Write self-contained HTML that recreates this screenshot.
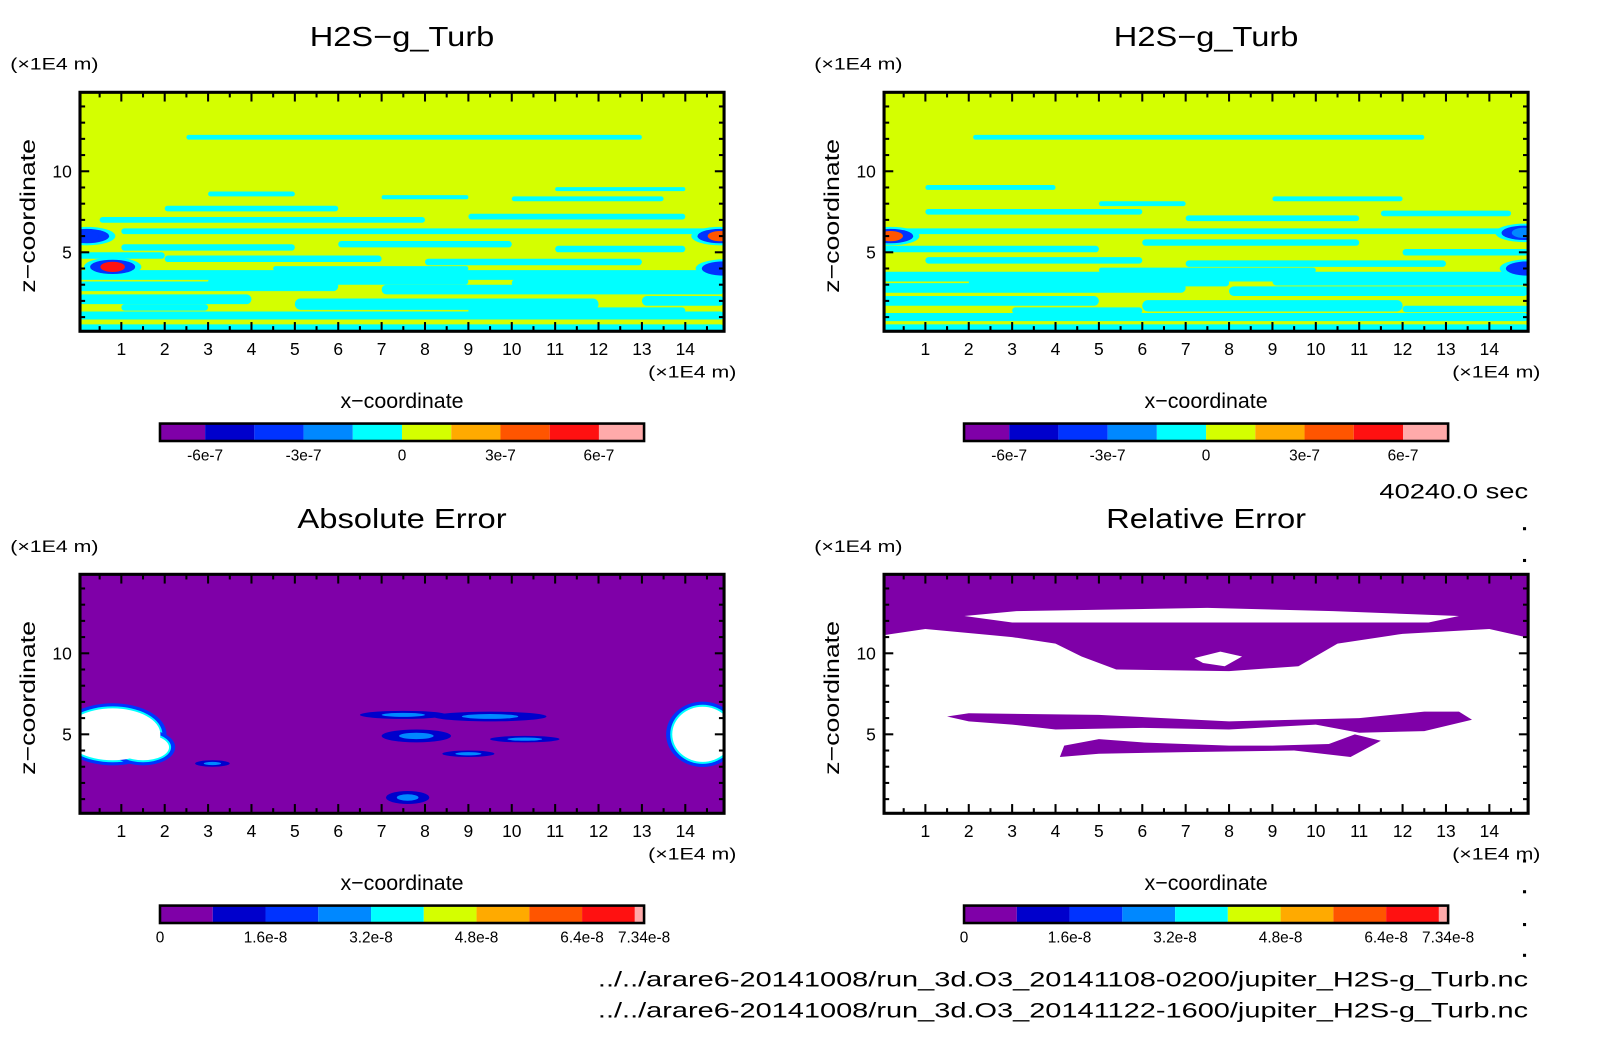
<!DOCTYPE html>
<html><head><meta charset="utf-8"><style>
html,body{margin:0;padding:0;background:#fff;}
svg{display:block;font-family:"Liberation Sans",sans-serif;}
</style></head><body>
<svg id="fig" width="1604" height="1054" viewBox="0 0 1604 1054" xmlns="http://www.w3.org/2000/svg"><g id="root" transform="scale(1.02558)"></g></svg>
<script>
// ---- data ----
const xTicks = [1,2,3,4,5,6,7,8,9,10,11,12,13,14];
const zTicks = [5,10];
const turbLevels = ["#7f00a8","#0000cc","#0033ff","#0088ff","#00ffff","#d4ff00","#ffaa00","#ff5500","#ff1111","#ffaaaa"];
const turbTickLabels = ["-6e-7","-3e-7","0","3e-7","6e-7"];
const turbTickIdx = [1,3,5,7,9];
const errTickLabels = ["0","1.6e-8","3.2e-8","4.8e-8","6.4e-8","7.34e-8"];
const errTickVals = [0,1.6e-8,3.2e-8,4.8e-8,6.4e-8,7.34e-8];
const errMax = 7.34e-8;
// cyan streaks [x0,x1,z,thickness]
const streaksLeft = [[2.5,13,12.1,0.3],[1,14.5,6.3,0.35],[0.5,8,7.0,0.35],[9,14,7.2,0.35],[2,6,7.7,0.35],[10,13.5,8.3,0.3],[11,14,8.9,0.25],[3,5,8.6,0.3],[7,9,8.4,0.25],
 [1,5,5.3,0.4],[6,10,5.5,0.4],[11,14,5.2,0.4],[2,7,4.6,0.4],[8,13,4.4,0.4],[0,14.9,3.6,0.6],[0,6,2.9,0.6],[7,14.9,2.7,0.6],[0,4,2.1,0.6],[5,12,1.8,0.7],[13,14.9,2.0,0.6],[0,14.9,1.1,0.5],[0,14.9,0.3,0.5],
 [3,9,3.2,0.4],[10,14.9,3.1,0.5],[1,3,1.6,0.4],[9,14,1.4,0.4],[0,2,4.8,0.4],[4.5,9,4.0,0.3]];
const streaksRight = [[2.1,12.5,12.1,0.3],[0.5,14.9,6.3,0.35],[1,6,7.5,0.35],[7,11,7.1,0.35],[11.5,14.5,7.4,0.35],[1,4,9.0,0.3],[5,7,8.0,0.3],[9,12,8.3,0.3],
 [0,5,5.2,0.4],[6,11,5.6,0.4],[12,14.9,5.0,0.4],[1,6,4.5,0.4],[7,13,4.3,0.4],[0,14.9,3.5,0.6],[0,7,2.8,0.6],[8,14.9,2.6,0.6],[0,5,2.0,0.6],[6,12,1.7,0.7],[0,14.9,1.0,0.5],[0,14.9,0.3,0.5],
 [2,8,3.1,0.4],[9,14.9,3.2,0.5],[12,14.9,1.5,0.4],[3,6,1.4,0.4],[5,10,3.9,0.3]];
// vortices
const vortLeftX=[0.8,0.2,14.8,14.9], vortLeftZ=[4.1,6.0,6.0,4.0], vortLeftL=[8,2,7,2];
const vortRightX=[0.2,14.9,14.8], vortRightZ=[6.0,4.0,6.2], vortRightL=[7,2,3];
// absolute error blobs (white) [x,z,rx,rz]
const absBlobs=[[0.8,5.0,1.1,1.6],[1.5,4.2,0.6,0.8],[14.4,5.0,0.7,1.7]];
const absSpots=[[7.5,6.2,1.0,0.25],[9.5,6.1,1.3,0.3],[7.8,4.9,0.8,0.4],[3.1,3.2,0.4,0.2],[9,3.8,0.6,0.2],[7.6,1.1,0.5,0.4],[10.3,4.7,0.8,0.2]];
// relative error purple regions
const relTop=[[0,15],[15,15],[15,10.9],[14,11.5],[12,11.2],[10.5,10.6],[9.6,9.2],[8,8.9],[5.4,9.0],[4.6,9.8],[4,10.6],[3,11.0],[1,11.5],[0,11.1]];
const relStripe=[[1.9,12.3],[3.1,12.6],[7.5,12.8],[10.4,12.6],[13.3,12.3],[12.6,11.9],[7,11.9],[3,11.9]];
const relHole=[[7.2,9.7],[7.8,10.1],[8.3,9.8],[7.9,9.2],[7.4,9.4]];
const relBand1=[[1.5,6.1],[2,6.3],[5,6.2],[8,5.8],[11,6.0],[12.5,6.4],[13.3,6.4],[13.6,5.9],[12.5,5.2],[11,5.1],[10,5.6],[8,5.3],[6,5.4],[4,5.3],[3,5.6],[2,5.8]];
const relBand2=[[4.2,4.3],[5,4.7],[6,4.5],[8,4.3],[9,4.3],[10.3,4.4],[10.9,5.0],[11.5,4.6],[10.8,3.6],[9.5,4.0],[7,3.9],[5,3.8],[4.1,3.6]];

const NS="http://www.w3.org/2000/svg";
const svg=document.getElementById('root');
function mk(tag,attrs,parent){const e=document.createElementNS(NS,tag);for(const k in attrs)e.setAttribute(k,attrs[k]);(parent||svg).appendChild(e);return e;}
function txt(s,x,y,size,anchor,parent,name,len){const t=mk('text',{x:x,y:y,'font-size':size,'text-anchor':anchor||'middle',fill:'#000'},parent);t.textContent=s;
if(len){t.setAttribute('textLength',len);t.setAttribute('lengthAdjust','spacingAndGlyphs');}


return t;}

function panel(L,T,title,id,tlen){
  const W=628,H=233,R=L+W,B=T+H;
  const px=x=>L-2+42.3*x, pz=z=>B+2-15.8*z;
  const g=mk('g',{});
  
  
  const cp=mk('clipPath',{id:'c'+id},g); mk('rect',{x:L,y:T,width:W,height:H},cp);
  const f=mk('g',{'clip-path':'url(#c'+id+')'},g);
  
  
  txt(title,(L+R)/2,T-45,27,'middle',g,id+'-title',tlen);
  txt('(×1E4 m)',L-68,T-22,16,'start',g,id+'-y-unit',86);
  txt('(×1E4 m)',R+12,T+278,16,'end',g,id+'-x-unit',86);
  txt('x−coordinate',(L+R)/2,T+308,21,'middle',g,id+'-x-axis-title',120);
  const yl=txt('z−coordinate',L-48,(T+B)/2,21,'middle',g,id+'-y-axis-title',150);
  yl.setAttribute('transform','rotate(-90 '+(L-44)+' '+((T+B)/2)+')');
  xTicks.forEach(v=>{txt(String(v),px(v),B+23,17,'middle',g,id+'-x-tick-label');});
  zTicks.forEach(v=>{txt(String(v),L-8,pz(v)+6,17,'end',g,id+'-y-tick-label');});
  return {g,f,px,pz,L,T,R,B,W,H};
}
function frame(p){
  const g=p.g;
  for(let x=0.5;x<15;x+=0.5){const major=Math.abs(x-Math.round(x))<0.01;const len=major?9:5;
    mk('line',{x1:p.px(x),x2:p.px(x),y1:p.T,y2:p.T+len,stroke:'#000','stroke-width':2},g);
    mk('line',{x1:p.px(x),x2:p.px(x),y1:p.B,y2:p.B-len,stroke:'#000','stroke-width':2},g);}
  for(let z=1;z<15;z++){const major=z%5==0;const len=major?9:5;const y=p.pz(z);if(y<p.T)continue;
    mk('line',{x1:p.L,x2:p.L+len,y1:y,y2:y,stroke:'#000','stroke-width':2},g);
    mk('line',{x1:p.R,x2:p.R-len,y1:y,y2:y,stroke:'#000','stroke-width':2},g);}
  const r=mk('rect',{x:p.L,y:p.T,width:p.W,height:p.H,fill:'none',stroke:'#000','stroke-width':3},g);
  
  
}
function turbField(p,streaks,vx,vz,vl){
  mk('rect',{x:p.L,y:p.T,width:p.W,height:p.H,fill:turbLevels[5]},p.f);
  streaks.forEach(s=>{const h=s[3]*15.8;const r=mk('rect',{x:p.px(s[0]),y:p.pz(s[2])-h/2,width:p.px(s[1])-p.px(s[0]),height:h,rx:h/2,fill:turbLevels[4]},p.f);
    
    });
  vx.forEach((x,i)=>{const cx=p.px(x),cy=p.pz(vz[i]);
    mk('ellipse',{cx:cx,cy:cy,rx:28,ry:9,fill:turbLevels[4]},p.f);
    mk('ellipse',{cx:cx,cy:cy,rx:22,ry:7,fill:turbLevels[2]},p.f);
    const e=mk('ellipse',{cx:cx,cy:cy,rx:12,ry:5,fill:turbLevels[vl[i]]},p.f);
    
    });
}
function colorbar(L,y,colors,edges,labels,labelPos,id){
  const g=mk('g',{});
  
  
  colors.forEach((c,i)=>mk('rect',{x:edges[i],y:y,width:edges[i+1]-edges[i],height:17,fill:c},g));
  mk('rect',{x:L,y:y,width:472,height:17,fill:'none',stroke:'#000','stroke-width':2.5},g);
  labels.forEach((s,i)=>txt(s,labelPos[i],y+36,15,'middle',g,id+'-colorbar-label'));
}
function poly(p,pts,fill,name){const e=mk('polygon',{points:pts.map(q=>p.px(q[0])+','+p.pz(q[1])).join(' '),fill:fill},p.f);
  
  }

const p1=panel(78,90,'H2S−g_Turb','turb-run1',180); turbField(p1,streaksLeft,vortLeftX,vortLeftZ,vortLeftL); frame(p1);
const p2=panel(862,90,'H2S−g_Turb','turb-run2',180); turbField(p2,streaksRight,vortRightX,vortRightZ,vortRightL); frame(p2);
function turbEdges(L){const e=[L];for(let i=1;i<=10;i++)e.push(L+44+48*(i-1));e[10]=L+472;return e;}
[[156,'turb-run1'],[940,'turb-run2']].forEach(a=>{const e=turbEdges(a[0]);colorbar(a[0],413,turbLevels,e,turbTickLabels,turbTickIdx.map(i=>e[i]),a[1]);});
const p3=panel(78,560,'Absolute Error','abs-error',204);
mk('rect',{x:p3.L,y:p3.T,width:p3.W,height:p3.H,fill:turbLevels[0]},p3.f);
absSpots.forEach(s=>{mk('ellipse',{cx:p3.px(s[0]),cy:p3.pz(s[1]),rx:s[2]*42.3,ry:s[3]*15.8,fill:turbLevels[1]},p3.f);
  const e=mk('ellipse',{cx:p3.px(s[0]),cy:p3.pz(s[1]),rx:s[2]*42.3*0.5,ry:s[3]*15.8*0.5,fill:turbLevels[3]},p3.f);
  
  });
absBlobs.forEach(s=>{const cx=p3.px(s[0]),cy=p3.pz(s[1]),rx=s[2]*42.3,ry=s[3]*15.8;
  mk('ellipse',{cx:cx,cy:cy,rx:rx+6,ry:ry+5,fill:turbLevels[2]},p3.f);
  mk('ellipse',{cx:cx,cy:cy,rx:rx+2,ry:ry+2,fill:turbLevels[4]},p3.f);});
absBlobs.forEach(s=>{const e=mk('ellipse',{cx:p3.px(s[0]),cy:p3.pz(s[1]),rx:s[2]*42.3,ry:s[3]*15.8,fill:'#fff'},p3.f);
  
  });
frame(p3);
const p4=panel(862,560,'Relative Error','rel-error',195);
mk('rect',{x:p4.L,y:p4.T,width:p4.W,height:p4.H,fill:'#fff'},p4.f);
poly(p4,relTop,turbLevels[0],'rel-region-top');poly(p4,relStripe,'#fff','rel-stripe');poly(p4,relHole,'#fff','rel-hole');
poly(p4,relBand1,turbLevels[0],'rel-band-1');poly(p4,relBand2,turbLevels[0],'rel-band-2');
frame(p4);
function errEdges(L){const out=[];for(let i=0;i<=9;i++)out.push(L+i*0.8e-8/errMax*472);out.push(L+472);return out;}
[[156,'abs-error'],[940,'rel-error']].forEach(a=>{const e=errEdges(a[0]);colorbar(a[0],883,turbLevels,e,errTickLabels,errTickVals.map(v=>a[0]+v/errMax*472),a[1]);});
txt('40240.0 sec',1490,486,21,'end',svg,'time-label',145);
[514,545,838,868,900,930].forEach(y=>{const d=mk('rect',{x:1485,y:y,width:3,height:3,fill:'#000'});});
txt('../../arare6-20141008/run_3d.O3_20141108-0200/jupiter_H2S-g_Turb.nc',1490,962,21,'end',svg,'file-path-1',907);
txt('../../arare6-20141008/run_3d.O3_20141122-1600/jupiter_H2S-g_Turb.nc',1490,992,21,'end',svg,'file-path-2',907);
</script>
</body></html>
